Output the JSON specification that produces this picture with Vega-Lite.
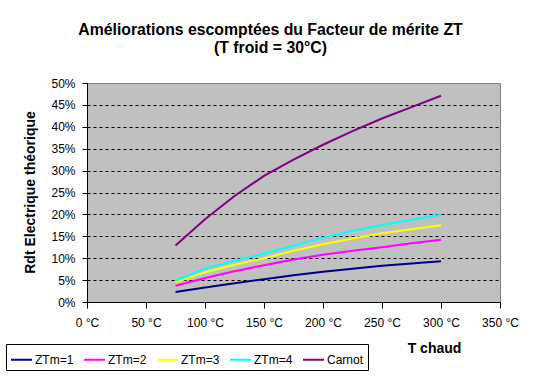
{
  "$schema": "https://vega.github.io/schema/vega-lite/v6.json",
  "width": 413,
  "height": 219,
  "autosize": "none",
  "padding": {"left": 87, "top": 83, "right": 40, "bottom": 75},
  "background": "white",
  "title": {
    "text": ["Améliorations escomptées du Facteur de mérite ZT", "(T froid = 30°C)"],
    "font": "Liberation Sans",
    "fontSize": 15.8,
    "fontWeight": "bold",
    "color": "black",
    "anchor": "middle",
    "dx": -23,
    "offset": 20,
    "lineHeight": 18
  },
  "config": {
    "view": {"fill": "#c0c0c0", "stroke": "#808080", "strokeWidth": 1},
    "font": "Liberation Sans"
  },
  "data": {
    "values": [
      {"T": 75, "serie": "ZTm=1", "v": 0.023},
      {"T": 100, "serie": "ZTm=1", "v": 0.033},
      {"T": 125, "serie": "ZTm=1", "v": 0.043},
      {"T": 150, "serie": "ZTm=1", "v": 0.052},
      {"T": 175, "serie": "ZTm=1", "v": 0.061},
      {"T": 200, "serie": "ZTm=1", "v": 0.069},
      {"T": 225, "serie": "ZTm=1", "v": 0.076},
      {"T": 250, "serie": "ZTm=1", "v": 0.083},
      {"T": 275, "serie": "ZTm=1", "v": 0.088},
      {"T": 300, "serie": "ZTm=1", "v": 0.093},
      {"T": 75, "serie": "ZTm=2", "v": 0.037},
      {"T": 100, "serie": "ZTm=2", "v": 0.055},
      {"T": 125, "serie": "ZTm=2", "v": 0.070},
      {"T": 150, "serie": "ZTm=2", "v": 0.084},
      {"T": 175, "serie": "ZTm=2", "v": 0.097},
      {"T": 200, "serie": "ZTm=2", "v": 0.108},
      {"T": 225, "serie": "ZTm=2", "v": 0.117},
      {"T": 250, "serie": "ZTm=2", "v": 0.125},
      {"T": 275, "serie": "ZTm=2", "v": 0.134},
      {"T": 300, "serie": "ZTm=2", "v": 0.142},
      {"T": 75, "serie": "ZTm=3", "v": 0.045},
      {"T": 100, "serie": "ZTm=3", "v": 0.068},
      {"T": 125, "serie": "ZTm=3", "v": 0.085},
      {"T": 150, "serie": "ZTm=3", "v": 0.100},
      {"T": 175, "serie": "ZTm=3", "v": 0.117},
      {"T": 200, "serie": "ZTm=3", "v": 0.132},
      {"T": 225, "serie": "ZTm=3", "v": 0.145},
      {"T": 250, "serie": "ZTm=3", "v": 0.157},
      {"T": 275, "serie": "ZTm=3", "v": 0.166},
      {"T": 300, "serie": "ZTm=3", "v": 0.175},
      {"T": 75, "serie": "ZTm=4", "v": 0.050},
      {"T": 100, "serie": "ZTm=4", "v": 0.076},
      {"T": 125, "serie": "ZTm=4", "v": 0.094},
      {"T": 150, "serie": "ZTm=4", "v": 0.110},
      {"T": 175, "serie": "ZTm=4", "v": 0.129},
      {"T": 200, "serie": "ZTm=4", "v": 0.147},
      {"T": 225, "serie": "ZTm=4", "v": 0.162},
      {"T": 250, "serie": "ZTm=4", "v": 0.176},
      {"T": 275, "serie": "ZTm=4", "v": 0.188},
      {"T": 300, "serie": "ZTm=4", "v": 0.199},
      {"T": 75, "serie": "Carnot", "v": 0.129},
      {"T": 100, "serie": "Carnot", "v": 0.189},
      {"T": 125, "serie": "Carnot", "v": 0.242},
      {"T": 150, "serie": "Carnot", "v": 0.288},
      {"T": 175, "serie": "Carnot", "v": 0.325},
      {"T": 200, "serie": "Carnot", "v": 0.359},
      {"T": 225, "serie": "Carnot", "v": 0.390},
      {"T": 250, "serie": "Carnot", "v": 0.419},
      {"T": 275, "serie": "Carnot", "v": 0.445},
      {"T": 300, "serie": "Carnot", "v": 0.471}
    ]
  },
  "mark": {"type": "line", "strokeWidth": 2},
  "encoding": {
    "x": {
      "field": "T",
      "type": "quantitative",
      "scale": {"domain": [0, 350], "nice": false, "zero": false},
      "axis": {
        "values": [0, 50, 100, 150, 200, 250, 300, 350],
        "labelExpr": "datum.value + ' °C'",
        "grid": false,
        "domainColor": "black",
        "tickColor": "black",
        "tickSize": 6,
        "labelFont": "Liberation Sans",
        "labelFontSize": 12,
        "labelColor": "black",
        "labelPadding": 9,
        "labelFlush": false,
        "title": "T chaud",
        "titleFont": "Liberation Sans",
        "titleFontSize": 14,
        "titleFontWeight": "bold",
        "titleColor": "black",
        "titleX": 347,
        "titleY": 46,
        "titleAnchor": "middle",
        "titleBaseline": "middle"
      }
    },
    "y": {
      "field": "v",
      "type": "quantitative",
      "scale": {"domain": [0, 0.5], "nice": false},
      "axis": {
        "values": [0, 0.05, 0.1, 0.15, 0.2, 0.25, 0.3, 0.35, 0.4, 0.45, 0.5],
        "format": ".0%",
        "grid": true,
        "gridColor": "black",
        "gridDash": [3, 3],
        "gridOpacity": {"condition": {"test": "datum.value >= 0.5 || datum.value <= 0", "value": 0}, "value": 1},
        "domainColor": "black",
        "tickColor": "black",
        "tickSize": 5,
        "labelFont": "Liberation Sans",
        "labelFontSize": 12,
        "labelColor": "black",
        "labelPadding": 7,
        "labelFlush": false,
        "title": "Rdt Electrique théorique",
        "titleFont": "Liberation Sans",
        "titleFontSize": 14,
        "titleFontWeight": "bold",
        "titleColor": "black",
        "titleX": -57,
        "titleY": 109,
        "titleAnchor": "middle",
        "titleBaseline": "middle"
      }
    },
    "color": {
      "field": "serie",
      "type": "nominal",
      "sort": ["ZTm=1", "ZTm=2", "ZTm=3", "ZTm=4", "Carnot"],
      "scale": {
        "domain": ["ZTm=1", "ZTm=2", "ZTm=3", "ZTm=4", "Carnot"],
        "range": ["#000080", "#ff00ff", "#ffff00", "#00ffff", "#800080"]
      },
      "legend": {
        "title": null,
        "orient": "none",
        "direction": "horizontal",
        "legendX": -81,
        "legendY": 261,
        "symbolType": "stroke",
        "symbolSize": 441,
        "symbolStrokeWidth": 2,
        "labelFont": "Liberation Sans",
        "labelFontSize": 12,
        "labelColor": "black",
        "labelOffset": 2,
        "columnPadding": 6,
        "padding": 4,
        "strokeColor": "black",
        "fillColor": "white"
      }
    }
  }
}
